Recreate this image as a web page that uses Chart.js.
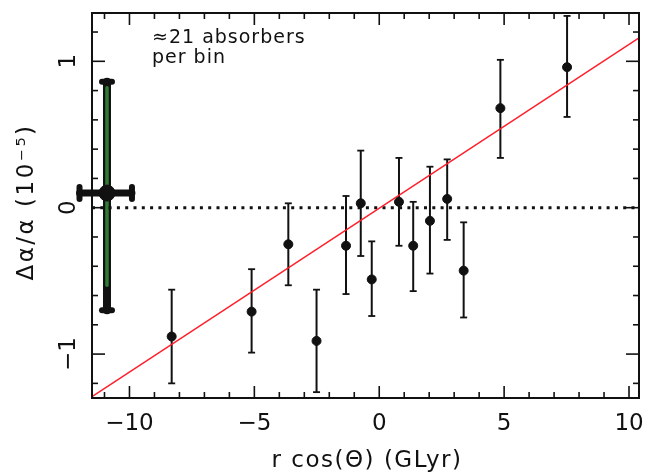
<!DOCTYPE html>
<html>
<head>
<meta charset="utf-8">
<script src="https://cdn.jsdelivr.net/npm/chart.js@4.4.1/dist/chart.umd.min.js"></script>
<style>
  html, body { margin: 0; padding: 0; background: #fff; }
</style>
</head>
<body>
<canvas id="alphaChart" width="648" height="474"></canvas>
<script>
// binned absorbers (~21 per bin)
const binX  = [-8.31, -5.11, -3.64, -2.51, -1.33, -0.74, -0.30, 0.79, 1.36, 2.03, 2.72, 3.38, 4.85, 7.52];
const binY  = [-0.88, -0.71, -0.25, -0.91, -0.26, 0.03, -0.49, 0.04, -0.26, -0.09, 0.06, -0.43, 0.68, 0.96];
const binHi = [-0.56, -0.42, 0.03, -0.56, 0.08, 0.39, -0.23, 0.34, 0.04, 0.28, 0.33, -0.10, 1.01, 1.31];
const binLo = [-1.20, -0.99, -0.53, -1.26, -0.59, -0.33, -0.74, -0.26, -0.57, -0.45, -0.22, -0.75, 0.34, 0.62];

// overall point (green bar)
const meanX   = [-10.9];
const meanY   = [0.10];
const meanYHi = [0.86];
const meanYLo = [-0.70];
const meanXLo = [-12.0];
const meanXHi = [-9.9];

// dipole fit line
const fitX = [-11.5, 10.4];
const fitY = [-1.29, 1.16];

const zeroX = [-11.5, 10.4];
const zeroY = [0, 0];

const xTicks = [-10, -5, 0, 5, 10];
const yTicks = [-1, 0, 1];

const FONT = '"DejaVu Sans", "Liberation Sans", sans-serif';
const INK = '#111';

function fmt(v) {
    return v < 0 ? '\u2212' + Math.abs(v) : String(v);
}

function line(ctx, x1, y1, x2, y2) {
    ctx.beginPath();
    ctx.moveTo(x1, y1);
    ctx.lineTo(x2, y2);
    ctx.stroke();
}

const errorBars = {
    id: 'errorBars',
    beforeDatasetsDraw(chart) {
        const ctx = chart.ctx;
        const xs = chart.scales.x, ys = chart.scales.y;
        ctx.save();
        ctx.strokeStyle = INK;
        ctx.lineCap = 'butt';
        binX.forEach((x, i) => {
            const px = xs.getPixelForValue(x);
            const hi = ys.getPixelForValue(binHi[i]);
            const lo = ys.getPixelForValue(binLo[i]);
            ctx.lineWidth = 2;
            line(ctx, px, hi, px, lo);
            ctx.lineWidth = 1.8;
            line(ctx, px - 3.5, hi, px + 3.5, hi);
            line(ctx, px - 3.5, lo, px + 3.5, lo);
        });

        // big green error bar
        const gx = xs.getPixelForValue(meanX[0]);
        const gy = ys.getPixelForValue(meanY[0]);
        const gHi = ys.getPixelForValue(meanYHi[0]);
        const gLo = ys.getPixelForValue(meanYLo[0]);
        const gL = xs.getPixelForValue(meanXLo[0]);
        const gR = xs.getPixelForValue(meanXHi[0]);
        ctx.lineCap = 'round';
        ctx.strokeStyle = INK;
        ctx.lineWidth = 8;
        line(ctx, gx, gHi, gx, gLo);
        ctx.strokeStyle = '#2f7d35';
        ctx.lineWidth = 3.5;
        line(ctx, gx, gHi + 6, gx, gLo - 25);
        ctx.strokeStyle = INK;
        ctx.lineWidth = 6;
        line(ctx, gx - 5, gHi, gx + 5, gHi);
        line(ctx, gx - 5, gLo, gx + 5, gLo);
        ctx.lineWidth = 7;
        line(ctx, gL, gy, gR, gy);
        ctx.lineWidth = 6;
        line(ctx, gL, gy - 6, gL, gy + 6);
        line(ctx, gR, gy - 6, gR, gy + 6);
        ctx.restore();
    }
};

const frame = {
    id: 'frame',
    afterDraw(chart) {
        const ctx = chart.ctx;
        const a = chart.chartArea;
        const xs = chart.scales.x, ys = chart.scales.y;
        ctx.save();
        ctx.strokeStyle = INK;
        ctx.lineWidth = 2;
        ctx.strokeRect(a.left, a.top, a.right - a.left, a.bottom - a.top);

        // inward ticks, minor every 1 on x, every 0.2 on y
        ctx.lineWidth = 1.6;
        for (let v = -11; v <= 10; v++) {
            const px = xs.getPixelForValue(v);
            const len = v % 5 === 0 ? 12 : 6;
            line(ctx, px, a.bottom, px, a.bottom - len);
            line(ctx, px, a.top, px, a.top + len);
        }
        for (let k = -6; k <= 6; k++) {
            const py = ys.getPixelForValue(k * 0.2);
            const len = k % 5 === 0 ? 13 : 6;
            line(ctx, a.left, py, a.left + len, py);
            line(ctx, a.right, py, a.right - len, py);
        }

        ctx.fillStyle = INK;
        ctx.font = '23px ' + FONT;
        ctx.textAlign = 'center';
        ctx.textBaseline = 'middle';
        xTicks.forEach(v => {
            ctx.fillText(fmt(v), xs.getPixelForValue(v), a.bottom + 26);
        });
        yTicks.forEach(v => {
            ctx.save();
            ctx.translate(a.left - 23, ys.getPixelForValue(v));
            ctx.rotate(-Math.PI / 2);
            ctx.fillText(fmt(v), 0, 0);
            ctx.restore();
        });

        ctx.letterSpacing = '1.5px';
        ctx.fillText('r cos(\u0398) (GLyr)', 367, 461);

        ctx.save();
        ctx.letterSpacing = '2.5px';
        ctx.translate(27, 202);
        ctx.rotate(-Math.PI / 2);
        ctx.fillText('\u0394\u03b1/\u03b1 (10\u207b\u2075)', 0, 0);
        ctx.restore();

        ctx.font = '19px ' + FONT;
        ctx.letterSpacing = '1px';
        ctx.textAlign = 'left';
        ctx.textBaseline = 'alphabetic';
        ctx.fillText('\u224821 absorbers', 152, 43);
        ctx.fillText('per bin', 152, 63);
        ctx.restore();
    }
};

const ctx = document.getElementById('alphaChart').getContext('2d');
const alphaChart = new Chart(ctx, {
    type: 'scatter',
    data: {
        datasets: [
            {
                label: 'bins',
                data: binX.map((x, i) => ({ x: x, y: binY[i] })),
                backgroundColor: INK,
                borderColor: INK,
                pointRadius: 4.5,
                showLine: false
            },
            {
                label: 'all',
                data: meanX.map((x, i) => ({ x: x, y: meanY[i] })),
                backgroundColor: INK,
                borderColor: INK,
                pointRadius: 8,
                showLine: false,
                clip: false
            },
            {
                label: 'fit',
                data: fitX.map((x, i) => ({ x: x, y: fitY[i] })),
                borderColor: '#ff1f2a',
                borderWidth: 1.5,
                pointRadius: 0,
                showLine: true
            },
            {
                label: 'zero',
                data: zeroX.map((x, i) => ({ x: x, y: zeroY[i] })),
                borderColor: INK,
                borderWidth: 3,
                borderDash: [3, 5.3],
                pointRadius: 0,
                showLine: true
            }
        ]
    },
    options: {
        responsive: false,
        animation: false,
        layout: { padding: { left: 92, right: 4, top: 13, bottom: 76 } },
        plugins: {
            legend: { display: false },
            tooltip: { enabled: false }
        },
        scales: {
            x: { type: 'linear', min: -11.5, max: 10.4, display: false },
            y: { type: 'linear', min: -1.3, max: 1.33, display: false }
        }
    },
    plugins: [errorBars, frame]
});
</script>
</body>
</html>
